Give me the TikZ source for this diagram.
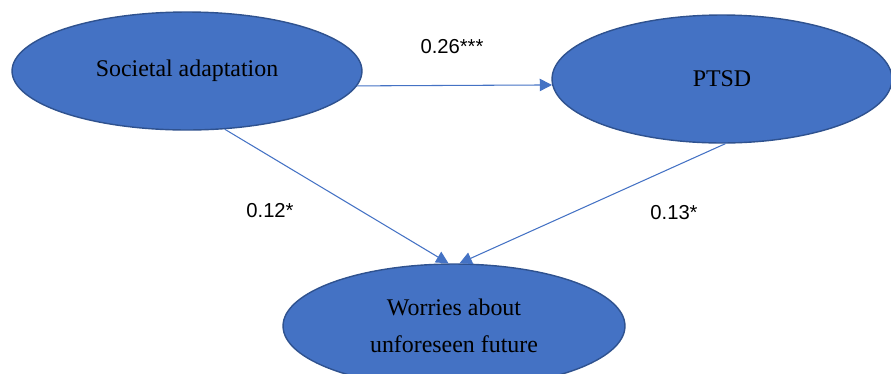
\documentclass[tikz,border=0pt]{standalone}
\usepackage{fontspec}
\setmainfont{Liberation Serif}
\newfontfamily\labelfont{Liberation Sans}
\usetikzlibrary{shapes.geometric,arrows.meta}
\definecolor{fillblue}{HTML}{4472C4}
\definecolor{edgeblue}{HTML}{2F528F}

\begin{document}
\begin{tikzpicture}[x=0.02cm,y=-0.02cm,
    latent/.style={ellipse,draw=edgeblue,fill=fillblue,line width=0.8pt,inner sep=0pt,
      align=center,font=\fontsize{13.6}{21}\selectfont},
    path/.style={draw=fillblue,line width=0.6pt,-{Triangle[length=7pt,width=7pt]}},
    coef/.style={font=\labelfont\fontsize{11.5}{13}\selectfont}]
  \useasboundingbox (0,0) rectangle (891,373);
  \node[latent,minimum width=7cm,minimum height=2.36cm] (sa) at (187,71){Societal adaptation};
  \node[latent,minimum width=6.8cm,minimum height=2.56cm] (ptsd) at (722,79){PTSD};
  \node[latent,minimum width=6.84cm,minimum height=2.48cm] (wf) at (454,326){Worries about\\unforeseen future};
  \draw[path] (sa.-5) -- (ptsd.182);
  \draw[path] (sa.-57) -- (wf.95);
  \draw[path] (ptsd.-87) -- (wf.85);
  \node[coef] (b1) at (452,47){0.26***};
  \node[coef] (b2) at (270,211){0.12*};
  \node[coef] (b3) at (674,213){0.13*};
\end{tikzpicture}
\end{document}
